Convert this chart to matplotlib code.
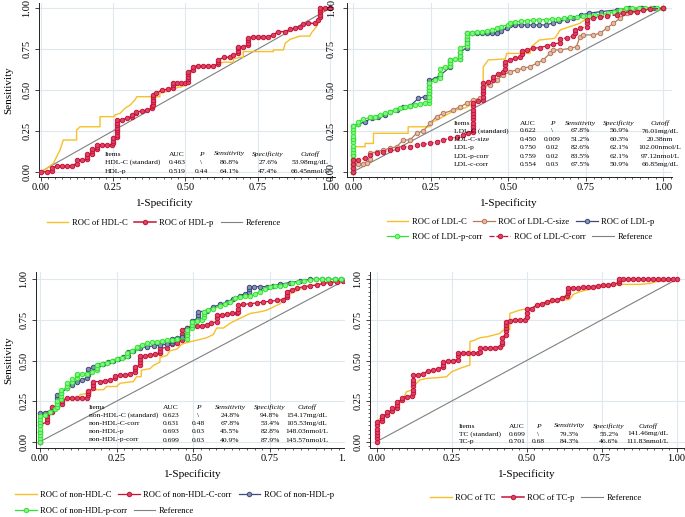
import numpy as np
import matplotlib
matplotlib.use("Agg")
import matplotlib.pyplot as plt
from matplotlib.patches import Rectangle
from matplotlib.ticker import MultipleLocator, FormatStrFormatter

plt.rcParams["font.family"] = ["Liberation Serif", "DejaVu Serif"]

# ---- data: (1-specificity, sensitivity) ----
hdl_c = [(0, 0), (0.02, 0.02), (0.044, 0.051), (0.055, 0.092), (0.067, 0.133), (0.078, 0.194),
         (0.124, 0.194), (0.124, 0.255), (0.136, 0.275), (0.205, 0.275), (0.205, 0.337), (0.256, 0.337),
         (0.256, 0.347), (0.274, 0.357), (0.291, 0.388), (0.309, 0.408), (0.326, 0.439), (0.332, 0.459),
         (0.412, 0.459), (0.412, 0.48), (0.435, 0.49), (0.435, 0.5), (0.487, 0.52), (0.499, 0.53),
         (0.51, 0.59), (0.522, 0.61), (0.533, 0.63), (0.55, 0.65), (0.608, 0.65), (0.614, 0.66),
         (0.631, 0.67), (0.666, 0.67), (0.666, 0.69), (0.689, 0.70), (0.7, 0.70), (0.7, 0.735),
         (0.804, 0.735), (0.804, 0.745), (0.839, 0.745), (0.845, 0.785), (0.862, 0.81), (0.896, 0.83),
         (0.93, 0.83), (0.936, 0.85), (0.954, 0.89), (0.965, 0.94), (0.97, 0.97), (0.982, 0.99), (1, 1)]
hdl_p = [(0, 0), (0.021, 0), (0.038, 0.006), (0.038, 0.02), (0.055, 0.035), (0.073, 0.035), (0.09, 0.035),
         (0.107, 0.035), (0.124, 0.05), (0.124, 0.07), (0.142, 0.071), (0.161, 0.075), (0.161, 0.09),
         (0.161, 0.108), (0.176, 0.11), (0.176, 0.125), (0.176, 0.137), (0.194, 0.14), (0.194, 0.152),
         (0.194, 0.163), (0.211, 0.163), (0.228, 0.163), (0.245, 0.163), (0.251, 0.175), (0.251, 0.19),
         (0.251, 0.205), (0.263, 0.21), (0.263, 0.225), (0.263, 0.24), (0.263, 0.255), (0.263, 0.27),
         (0.263, 0.285), (0.263, 0.3), (0.263, 0.316), (0.28, 0.316), (0.297, 0.327), (0.314, 0.337),
         (0.314, 0.35), (0.331, 0.357), (0.331, 0.367), (0.349, 0.37), (0.366, 0.376), (0.383, 0.388),
         (0.383, 0.4), (0.387, 0.41), (0.387, 0.425), (0.387, 0.44), (0.387, 0.455), (0.387, 0.47),
         (0.4, 0.48), (0.42, 0.5), (0.441, 0.504), (0.456, 0.515), (0.456, 0.53), (0.456, 0.541),
         (0.47, 0.541), (0.485, 0.541), (0.499, 0.541), (0.51, 0.55), (0.51, 0.565), (0.51, 0.58),
         (0.51, 0.595), (0.51, 0.61), (0.525, 0.625), (0.527, 0.643), (0.545, 0.647), (0.562, 0.647),
         (0.579, 0.647), (0.597, 0.647), (0.614, 0.66), (0.614, 0.672), (0.614, 0.684), (0.634, 0.7),
         (0.654, 0.7), (0.666, 0.714), (0.683, 0.724), (0.683, 0.74), (0.683, 0.755), (0.683, 0.765),
         (0.7, 0.765), (0.718, 0.775), (0.718, 0.79), (0.718, 0.805), (0.718, 0.816), (0.735, 0.827),
         (0.752, 0.827), (0.77, 0.827), (0.787, 0.827), (0.804, 0.837), (0.821, 0.857), (0.845, 0.857),
         (0.862, 0.871), (0.879, 0.878), (0.896, 0.888), (0.908, 0.902), (0.925, 0.908), (0.948, 0.908),
         (0.96, 0.929), (0.965, 0.945), (0.965, 0.96), (0.965, 0.975), (0.965, 0.99), (0.965, 1.0),
         (0.983, 1.0), (1, 1)]

ldl_c = [(0, 0), (0, 0.153), (0.038, 0.153), (0.038, 0.173), (0.065, 0.173), (0.065, 0.235), (0.177, 0.235),
         (0.177, 0.275), (0.247, 0.275), (0.247, 0.3), (0.263, 0.31), (0.29, 0.337), (0.312, 0.36),
         (0.333, 0.378), (0.36, 0.39), (0.387, 0.418), (0.41, 0.43), (0.419, 0.46), (0.419, 0.64),
         (0.435, 0.684), (0.49, 0.69), (0.495, 0.724), (0.57, 0.724), (0.575, 0.765), (0.6, 0.806),
         (0.65, 0.816), (0.667, 0.867), (0.699, 0.888), (0.731, 0.908), (0.753, 0.939), (0.785, 0.959),
         (0.817, 0.969), (0.882, 0.99), (0.903, 1.0), (1, 1)]
ldl_c_size = [(0, 0), (0, 0.02), (0, 0.04), (0, 0.05), (0.016, 0.05), (0.032, 0.05), (0.043, 0.055),
              (0.054, 0.08), (0.054, 0.112), (0.075, 0.122), (0.097, 0.133), (0.118, 0.143), (0.14, 0.153),
              (0.161, 0.194), (0.183, 0.194), (0.204, 0.235), (0.226, 0.25), (0.247, 0.296), (0.269, 0.337),
              (0.29, 0.357), (0.323, 0.378), (0.344, 0.398), (0.366, 0.418), (0.387, 0.439), (0.41, 0.45),
              (0.419, 0.48), (0.419, 0.52), (0.441, 0.531), (0.462, 0.561), (0.484, 0.592), (0.505, 0.612),
              (0.527, 0.622), (0.548, 0.633), (0.57, 0.643), (0.591, 0.663), (0.613, 0.684), (0.634, 0.724),
              (0.645, 0.745), (0.667, 0.745), (0.699, 0.755), (0.72, 0.765), (0.731, 0.827), (0.742, 0.837),
              (0.774, 0.837), (0.796, 0.847), (0.817, 0.878), (0.839, 0.908), (0.86, 0.939), (0.882, 0.969),
              (0.903, 0.99), (0.925, 1.0), (1, 1)]
ldl_p = [(0, 0), (0, 0.1), (0, 0.2), (0, 0.28), (0.016, 0.29), (0.038, 0.306), (0.059, 0.327), (0.081, 0.337),
         (0.102, 0.347), (0.118, 0.367), (0.14, 0.378), (0.161, 0.398), (0.183, 0.402), (0.21, 0.449),
         (0.231, 0.459), (0.245, 0.46), (0.245, 0.48), (0.245, 0.5), (0.245, 0.52), (0.245, 0.54),
         (0.245, 0.56), (0.263, 0.57), (0.28, 0.59), (0.312, 0.64), (0.312, 0.655), (0.312, 0.67),
         (0.312, 0.684), (0.344, 0.69), (0.344, 0.71), (0.344, 0.73), (0.366, 0.76), (0.366, 0.78),
         (0.366, 0.8), (0.366, 0.82), (0.366, 0.847), (0.382, 0.847), (0.398, 0.847), (0.414, 0.847),
         (0.43, 0.847), (0.446, 0.847), (0.462, 0.847), (0.478, 0.86), (0.495, 0.88), (0.505, 0.898),
         (0.52, 0.898), (0.54, 0.898), (0.56, 0.898), (0.58, 0.898), (0.6, 0.898), (0.62, 0.898),
         (0.645, 0.91), (0.665, 0.92), (0.69, 0.93), (0.71, 0.94), (0.735, 0.96), (0.76, 0.97),
         (0.8, 0.98), (0.85, 0.99), (0.89, 1.0), (0.93, 1.0), (0.97, 1.0), (1, 1)]
ldl_p_corr = [(0, 0), (0, 0.02), (0, 0.04), (0, 0.06), (0, 0.08), (0, 0.1), (0, 0.12), (0, 0.14), (0, 0.16),
              (0, 0.18), (0, 0.2), (0, 0.22), (0, 0.24), (0, 0.26), (0, 0.28), (0.016, 0.29), (0.016, 0.306),
              (0.032, 0.32), (0.054, 0.333), (0.07, 0.337), (0.086, 0.347), (0.102, 0.357), (0.118, 0.367),
              (0.134, 0.378), (0.151, 0.388), (0.167, 0.394), (0.183, 0.402), (0.199, 0.41), (0.215, 0.417),
              (0.231, 0.42), (0.245, 0.42), (0.245, 0.44), (0.245, 0.46), (0.245, 0.48), (0.245, 0.5),
              (0.245, 0.52), (0.245, 0.54), (0.263, 0.56), (0.28, 0.575), (0.28, 0.6), (0.28, 0.63),
              (0.296, 0.643), (0.312, 0.645), (0.312, 0.665), (0.312, 0.684), (0.328, 0.69), (0.344, 0.69),
              (0.344, 0.71), (0.344, 0.735), (0.344, 0.76), (0.366, 0.77), (0.366, 0.79), (0.366, 0.81),
              (0.366, 0.83), (0.366, 0.85), (0.382, 0.85), (0.398, 0.852), (0.414, 0.857), (0.43, 0.86),
              (0.446, 0.867), (0.462, 0.878), (0.478, 0.888), (0.5, 0.9), (0.505, 0.91), (0.52, 0.918),
              (0.54, 0.92), (0.56, 0.925), (0.58, 0.928), (0.6, 0.93), (0.62, 0.93), (0.64, 0.935),
              (0.66, 0.935), (0.68, 0.94), (0.7, 0.945), (0.72, 0.945), (0.74, 0.95), (0.76, 0.955),
              (0.78, 0.96), (0.8, 0.96), (0.82, 0.97), (0.84, 0.98), (0.86, 0.99), (0.88, 1.0), (0.9, 1.0),
              (0.92, 1.0), (0.94, 1.0), (0.96, 1.0), (0.98, 1.0), (1, 1)]
ldl_c_corr = [(0, 0), (0, 0.025), (0, 0.05), (0, 0.07), (0.016, 0.073), (0.038, 0.082), (0.054, 0.102),
              (0.075, 0.112), (0.097, 0.122), (0.118, 0.133), (0.14, 0.138), (0.161, 0.153), (0.183, 0.153),
              (0.204, 0.163), (0.226, 0.167), (0.247, 0.173), (0.269, 0.184), (0.29, 0.194), (0.312, 0.204),
              (0.333, 0.214), (0.355, 0.224), (0.371, 0.235), (0.387, 0.24), (0.387, 0.26), (0.387, 0.28),
              (0.387, 0.3), (0.387, 0.32), (0.387, 0.34), (0.387, 0.36), (0.387, 0.38), (0.387, 0.4),
              (0.387, 0.418), (0.403, 0.43), (0.419, 0.44), (0.419, 0.46), (0.419, 0.48), (0.419, 0.5),
              (0.419, 0.52), (0.419, 0.54), (0.435, 0.55), (0.452, 0.56), (0.452, 0.58), (0.468, 0.6),
              (0.484, 0.61), (0.49, 0.63), (0.49, 0.65), (0.49, 0.67), (0.505, 0.684), (0.522, 0.694),
              (0.538, 0.704), (0.543, 0.72), (0.543, 0.74), (0.56, 0.745), (0.58, 0.755), (0.602, 0.76),
              (0.624, 0.77), (0.645, 0.78), (0.667, 0.79), (0.667, 0.81), (0.688, 0.82), (0.71, 0.83),
              (0.715, 0.85), (0.715, 0.87), (0.731, 0.878), (0.753, 0.888), (0.753, 0.91), (0.753, 0.93),
              (0.774, 0.94), (0.796, 0.945), (0.817, 0.95), (0.849, 0.96), (0.871, 0.97), (0.892, 0.98),
              (0.914, 0.98), (0.935, 0.99), (0.957, 0.995), (1, 1)]

nonhdl_c = [(0, 0), (0, 0.15), (0.022, 0.16), (0.033, 0.19), (0.054, 0.2), (0.065, 0.25), (0.087, 0.26),
            (0.103, 0.27), (0.13, 0.27), (0.13, 0.29), (0.163, 0.3), (0.174, 0.32), (0.207, 0.32),
            (0.217, 0.34), (0.25, 0.34), (0.261, 0.36), (0.304, 0.37), (0.315, 0.4), (0.33, 0.4),
            (0.33, 0.44), (0.359, 0.45), (0.37, 0.47), (0.391, 0.49), (0.391, 0.52), (0.413, 0.53),
            (0.424, 0.56), (0.446, 0.57), (0.462, 0.6), (0.478, 0.61), (0.5, 0.62), (0.522, 0.63),
            (0.543, 0.64), (0.565, 0.66), (0.576, 0.7), (0.598, 0.7), (0.62, 0.73), (0.641, 0.75),
            (0.663, 0.77), (0.685, 0.79), (0.717, 0.8), (0.739, 0.81), (0.761, 0.83), (0.783, 0.85),
            (0.794, 0.88), (0.815, 0.91), (0.848, 0.94), (0.88, 0.96), (0.913, 0.97), (0.946, 0.985), (1, 1)]
nonhdl_c_corr = [(0, 0), (0, 0.1), (0.022, 0.123), (0.022, 0.14), (0.022, 0.16), (0.022, 0.175), (0.038, 0.185),
                 (0.038, 0.2), (0.038, 0.215), (0.054, 0.215), (0.071, 0.23), (0.071, 0.25), (0.087, 0.27),
                 (0.103, 0.27), (0.12, 0.27), (0.136, 0.27), (0.152, 0.27), (0.158, 0.285), (0.158, 0.3),
                 (0.158, 0.31), (0.174, 0.33), (0.174, 0.35), (0.174, 0.37), (0.196, 0.37), (0.212, 0.375),
                 (0.228, 0.38), (0.245, 0.39), (0.245, 0.405), (0.261, 0.41), (0.277, 0.41), (0.293, 0.42),
                 (0.31, 0.43), (0.31, 0.445), (0.31, 0.46), (0.326, 0.47), (0.326, 0.49), (0.326, 0.51),
                 (0.326, 0.53), (0.342, 0.53), (0.359, 0.535), (0.375, 0.54), (0.391, 0.545), (0.391, 0.56),
                 (0.391, 0.575), (0.413, 0.58), (0.413, 0.6), (0.43, 0.6), (0.446, 0.61), (0.462, 0.625),
                 (0.462, 0.645), (0.462, 0.665), (0.462, 0.69), (0.478, 0.7), (0.495, 0.71), (0.511, 0.71),
                 (0.527, 0.715), (0.543, 0.72), (0.559, 0.73), (0.576, 0.74), (0.576, 0.76), (0.576, 0.78),
                 (0.592, 0.78), (0.608, 0.785), (0.625, 0.79), (0.641, 0.79), (0.647, 0.8), (0.647, 0.82),
                 (0.647, 0.84), (0.663, 0.845), (0.685, 0.85), (0.707, 0.855), (0.728, 0.86), (0.75, 0.865),
                 (0.772, 0.87), (0.793, 0.875), (0.804, 0.89), (0.804, 0.905), (0.804, 0.924), (0.82, 0.935),
                 (0.837, 0.945), (0.859, 0.955), (0.88, 0.96), (0.902, 0.965), (0.924, 0.975), (0.946, 0.98),
                 (0.967, 0.985), (0.989, 0.99), (1, 1)]
nonhdl_p = [(0, 0), (0, 0.06), (0, 0.12), (0, 0.175), (0.016, 0.175), (0.033, 0.185), (0.054, 0.22),
            (0.054, 0.245), (0.054, 0.27), (0.054, 0.29), (0.07, 0.3), (0.087, 0.33), (0.103, 0.35),
            (0.12, 0.37), (0.136, 0.38), (0.152, 0.39), (0.158, 0.41), (0.158, 0.43), (0.158, 0.445),
            (0.174, 0.46), (0.19, 0.47), (0.207, 0.48), (0.223, 0.49), (0.239, 0.5), (0.255, 0.51),
            (0.272, 0.52), (0.288, 0.53), (0.288, 0.55), (0.304, 0.56), (0.326, 0.575), (0.348, 0.585),
            (0.37, 0.59), (0.391, 0.595), (0.413, 0.6), (0.43, 0.605), (0.43, 0.62), (0.43, 0.635),
            (0.446, 0.64), (0.462, 0.647), (0.478, 0.66), (0.478, 0.68), (0.478, 0.7), (0.495, 0.705),
            (0.495, 0.725), (0.495, 0.745), (0.516, 0.76), (0.516, 0.78), (0.516, 0.8), (0.543, 0.805),
            (0.565, 0.83), (0.587, 0.845), (0.609, 0.86), (0.63, 0.88), (0.652, 0.9), (0.668, 0.91),
            (0.68, 0.925), (0.68, 0.94), (0.68, 0.955), (0.696, 0.955), (0.717, 0.955), (0.739, 0.955),
            (0.761, 0.96), (0.783, 0.97), (0.815, 0.98), (0.848, 0.99), (0.88, 1.0), (0.9, 1.0), (0.92, 1.0),
            (0.94, 1.0), (0.96, 1.0), (0.98, 1.0), (1, 1)]
nonhdl_p_corr = [(0, 0), (0, 0.02), (0, 0.04), (0, 0.06), (0, 0.08), (0, 0.1), (0, 0.12), (0, 0.14), (0, 0.16),
                 (0.016, 0.164), (0.033, 0.185), (0.049, 0.2), (0.054, 0.215), (0.054, 0.235), (0.054, 0.25),
                 (0.07, 0.26), (0.07, 0.28), (0.07, 0.3), (0.07, 0.318), (0.087, 0.33), (0.087, 0.345),
                 (0.087, 0.36), (0.103, 0.37), (0.103, 0.385), (0.12, 0.39), (0.12, 0.41), (0.12, 0.42),
                 (0.136, 0.42), (0.152, 0.42), (0.168, 0.43), (0.185, 0.44), (0.185, 0.455), (0.185, 0.47),
                 (0.201, 0.48), (0.217, 0.485), (0.234, 0.5), (0.25, 0.51), (0.266, 0.515), (0.283, 0.53),
                 (0.283, 0.545), (0.299, 0.56), (0.315, 0.575), (0.315, 0.585), (0.332, 0.596), (0.348, 0.606),
                 (0.364, 0.611), (0.38, 0.616), (0.397, 0.62), (0.413, 0.624), (0.43, 0.628), (0.446, 0.63),
                 (0.478, 0.634), (0.478, 0.655), (0.478, 0.675), (0.478, 0.69), (0.495, 0.7), (0.495, 0.72),
                 (0.495, 0.74), (0.511, 0.745), (0.527, 0.75), (0.533, 0.77), (0.533, 0.785), (0.533, 0.8),
                 (0.549, 0.81), (0.565, 0.82), (0.587, 0.835), (0.603, 0.845), (0.62, 0.862), (0.636, 0.882),
                 (0.652, 0.893), (0.668, 0.895), (0.685, 0.9), (0.701, 0.91), (0.717, 0.925), (0.734, 0.94),
                 (0.75, 0.95), (0.766, 0.96), (0.783, 0.96), (0.799, 0.965), (0.82, 0.975), (0.84, 0.985),
                 (0.86, 0.99), (0.88, 0.995), (0.9, 1.0), (0.92, 1.0), (0.94, 1.0), (0.96, 1.0), (0.98, 1.0),
                 (1, 1)]

tc = [(0, 0), (0.006, 0.133), (0.022, 0.164), (0.044, 0.175), (0.056, 0.19), (0.072, 0.226), (0.089, 0.267),
      (0.1, 0.308), (0.117, 0.318), (0.128, 0.35), (0.144, 0.38), (0.167, 0.39), (0.2, 0.394), (0.233, 0.4),
      (0.25, 0.43), (0.278, 0.452), (0.311, 0.472), (0.311, 0.616), (0.328, 0.626), (0.344, 0.64),
      (0.367, 0.646), (0.389, 0.656), (0.411, 0.667), (0.422, 0.688), (0.444, 0.69), (0.444, 0.79),
      (0.478, 0.811), (0.511, 0.821), (0.533, 0.831), (0.556, 0.842), (0.578, 0.852), (0.6, 0.866),
      (0.622, 0.872), (0.644, 0.877), (0.656, 0.908), (0.678, 0.924), (0.722, 0.945), (0.767, 0.955),
      (0.8, 0.965), (0.822, 0.969), (0.878, 0.969), (0.911, 0.975), (0.933, 0.986), (0.967, 0.99), (1, 1)]
tc_p = [(0, 0), (0, 0.02), (0, 0.04), (0, 0.06), (0, 0.08), (0, 0.1), (0, 0.123), (0.017, 0.13), (0.017, 0.145),
        (0.017, 0.16), (0.033, 0.165), (0.033, 0.185), (0.05, 0.19), (0.05, 0.205), (0.067, 0.21),
        (0.067, 0.225), (0.067, 0.246), (0.083, 0.255), (0.083, 0.27), (0.1, 0.277), (0.117, 0.28),
        (0.122, 0.3), (0.122, 0.32), (0.122, 0.34), (0.122, 0.36), (0.122, 0.38), (0.122, 0.41),
        (0.139, 0.41), (0.156, 0.42), (0.172, 0.435), (0.189, 0.44), (0.206, 0.45), (0.222, 0.46),
        (0.222, 0.475), (0.222, 0.49), (0.239, 0.495), (0.256, 0.5), (0.272, 0.505), (0.272, 0.525),
        (0.272, 0.545), (0.289, 0.545), (0.306, 0.545), (0.322, 0.545), (0.339, 0.545), (0.344, 0.555),
        (0.344, 0.575), (0.361, 0.575), (0.378, 0.578), (0.394, 0.58), (0.411, 0.585), (0.417, 0.6),
        (0.417, 0.615), (0.417, 0.636), (0.43, 0.66), (0.43, 0.68), (0.43, 0.7), (0.43, 0.72), (0.43, 0.74),
        (0.444, 0.745), (0.461, 0.75), (0.478, 0.75), (0.494, 0.75), (0.5, 0.77), (0.5, 0.79), (0.5, 0.82),
        (0.517, 0.82), (0.533, 0.84), (0.55, 0.85), (0.567, 0.86), (0.583, 0.87), (0.6, 0.875),
        (0.617, 0.885), (0.633, 0.9), (0.639, 0.915), (0.639, 0.93), (0.639, 0.945), (0.656, 0.945),
        (0.672, 0.945), (0.689, 0.95), (0.706, 0.955), (0.722, 0.955), (0.739, 0.96), (0.756, 0.965),
        (0.772, 0.965), (0.789, 0.97), (0.809, 0.98), (0.809, 0.99), (0.809, 1.0), (0.822, 1.0),
        (0.839, 1.0), (0.856, 1.0), (0.872, 1.0), (0.889, 1.0), (0.906, 1.0), (0.922, 1.0), (0.939, 1.0),
        (0.956, 1.0), (0.972, 1.0), (0.989, 1.0), (1, 1)]

# ---- table contents ----
hdl_rows = [["HDL-C (standard)", "0.463", "\\", "86.8%", "27.6%", "53.98mg/dL"],
            ["HDL-p", "0.519", "0.44", "64.1%", "47.4%", "66.45nmol/L"]]
ldl_rows = [["LDL-C (standard)", "0.622", "\\", "67.8%", "56.9%", "76.01mg/dL"],
            ["LDL-C-size", "0.450", "0.009", "51.2%", "60.3%", "20.38nm"],
            ["LDL-p", "0.750", "0.02", "82.6%", "62.1%", "102.00nmol/L"],
            ["LDL-p-corr", "0.759", "0.02", "83.5%", "62.1%", "97.12nmol/L"],
            ["LDL-c-corr", "0.554", "0.03", "67.5%", "50.9%", "66.85mg/dL"]]
nonhdl_rows = [["non-HDL-C (standard)", "0.623", "\\", "24.8%", "94.8%", "154.17mg/dL"],
               ["non-HDL-C-corr", "0.631", "0.48", "67.8%", "53.4%", "105.53mg/dL"],
               ["non-HDL-p", "0.693", "0.03", "45.5%", "82.8%", "148.03nmol/L"],
               ["non-HDL-p-corr", "0.699", "0.03", "40.9%", "87.9%", "145.57nmol/L"]]
tc_rows = [["TC (standard)", "0.699", "\\", "79.3%", "55.2%", "141.46mg/dL"],
           ["TC-p", "0.701", "0.68", "84.3%", "46.6%", "111.83nmol/L"]]
header = ["Items", "AUC", "P", "Sensitivity", "Specificity", "Cutoff"]

YEL = "#f6c02a"
RED, RED_F = "#c51438", "#dc4467"
GRN, GRN_F = "#2fe62f", "#8cf08c"
NAV, NAV_F = "#3d4b7c", "#8893b6"
BRN, BRN_F = "#b8785a", "#e2bca4"
GRID = "#dde9ee"

W, H = 685, 517
fig = plt.figure(figsize=(W / 100, H / 100), dpi=100)


def box(l, t, r, b):
    return [l / W, 1 - b / H, (r - l) / W, (b - t) / H]


def fx(x, y):
    return x / W, 1 - y / H


def setup(ax, xlim, ylim, ylabel=False, yminor=False):
    ax.set_xlim(*xlim)
    ax.set_ylim(*ylim)
    for s in ("top", "right"):
        ax.spines[s].set_visible(False)
    for s in ("left", "bottom"):
        ax.spines[s].set_color("#222222")
        ax.spines[s].set_linewidth(0.7)
    ax.xaxis.set_major_locator(MultipleLocator(0.25))
    ax.yaxis.set_major_locator(MultipleLocator(0.25))
    ax.xaxis.set_minor_locator(MultipleLocator(0.025))
    if yminor:
        ax.yaxis.set_minor_locator(MultipleLocator(0.025))
    ax.xaxis.set_major_formatter(FormatStrFormatter("%.2f"))
    ax.yaxis.set_major_formatter(FormatStrFormatter("%.2f"))
    ax.tick_params(which="major", length=3, width=0.6, labelsize=7.5, color="#222222", pad=1.5)
    ax.tick_params(which="minor", length=1.6, width=0.5, color="#222222")
    ax.tick_params(axis="y", labelrotation=90, pad=2.5)
    for t in ax.get_yticklabels():
        t.set_va("center")
    ax.grid(True, which="major", color=GRID, lw=0.8)
    ax.set_axisbelow(True)
    ax.set_xlabel("1-Specificity", fontsize=8)
    ax.xaxis.label.set_va("center")
    if ylabel:
        ax.set_ylabel("Sensitivity", fontsize=8)


def roc(ax, pts, color, face=None, ls="-", lw=1.0, z=3):
    x, y = np.array(pts, dtype=float).T
    if face is None:
        return ax.plot(x, y, color=color, lw=lw, zorder=z)[0]
    return ax.plot(x, y, color=color, lw=lw, ls=ls, marker="o", ms=3.2, mfc=face,
                   mec=color, mew=0.7, zorder=z)[0]


def reference(ax):
    return ax.plot([0, 1], [0, 1], color="#808080", lw=0.8, zorder=2)[0]


def table(rows, items_x, cols_x, ys):
    fs = 5.4
    for j, h in enumerate(header):
        style = "italic" if j >= 2 else "normal"
        if j == 0:
            fig.text(*fx(items_x, ys[0]), h, fontsize=fs, ha="left", va="center", zorder=6)
        else:
            fig.text(*fx(cols_x[j - 1], ys[0]), h, fontsize=fs, style=style, ha="center",
                     va="center", zorder=6)
    for i, row in enumerate(rows):
        fig.text(*fx(items_x, ys[i + 1]), row[0], fontsize=fs, ha="left", va="center", zorder=6)
        for j, v in enumerate(row[1:]):
            fig.text(*fx(cols_x[j], ys[i + 1]), v, fontsize=fs, ha="center", va="center", zorder=6)


def legend(handles, labels, x, y):
    fig.legend(handles, labels, loc="center left", bbox_to_anchor=fx(x, y), ncol=len(handles),
               frameon=False, fontsize=6.2, handlelength=2.5, handletextpad=0.4, columnspacing=0.8,
               borderpad=0, borderaxespad=0, numpoints=1)


# ---- panel 1: HDL ----
ax1 = fig.add_axes(box(39, 3, 335, 177))
setup(ax1, (-0.0059, 1.0173), (-0.0324, 1.0324), ylabel=True)
ax1.xaxis.set_label_coords((165 - 39) / 296, -(203 - 177) / 174)
ax1.yaxis.set_label_coords(-(39 - 13) / 296, 0.5)
r1 = reference(ax1)
h1 = roc(ax1, hdl_c, YEL, lw=1.0)
h2 = roc(ax1, hdl_p, RED, RED_F, lw=1.1)
table(hdl_rows, 105, [177, 201, 229, 268, 310], [154, 162.6, 171.2])
legend([h1, h2, r1], ["ROC of HDL-C", "ROC of HDL-p", "Reference"], 46.7, 223.3)

# ---- panel 2: LDL ----
ax2 = fig.add_axes(box(347, 3, 672, 177))
setup(ax2, (-0.0203, 1.028), (-0.0324, 1.0324))
ax2.tick_params(axis="y", pad=5)
ax2.xaxis.set_label_coords((509 - 347) / 325, -(203 - 177) / 174)
r2 = reference(ax2)
g1 = roc(ax2, ldl_c, YEL, lw=1.0)
g2 = roc(ax2, ldl_c_size, BRN, BRN_F, lw=0.9)
g3 = roc(ax2, ldl_p, NAV, NAV_F, lw=0.9)
g4 = roc(ax2, ldl_p_corr, GRN, GRN_F, lw=0.9)
g5 = roc(ax2, ldl_c_corr, RED, RED_F, ls=(0, (4, 1.5)), lw=0.9)
table(ldl_rows, 454, [528, 552, 580, 619, 660], [123.5, 131, 139.3, 147.7, 156, 164.3])
legend([g1, g2, g3], ["ROC of LDL-C", "ROC of LDL-C-size", "ROC of LDL-p"], 386.7, 221.7)
legend([g4, g5, r2], ["ROC of LDL-p-corr", "ROC of LDL-C-corr", "Reference"], 386.7, 237.3)

# ---- panel 3: non-HDL ----
ax3 = fig.add_axes(box(36, 271.7, 352, 447.7))
setup(ax3, (-0.013, 1.017), (-0.037, 1.047), ylabel=True)
ax3.xaxis.set_label_coords((193 - 36) / 316, -(474 - 447.7) / 176)
ax3.yaxis.set_label_coords(-(36 - 13) / 316, (447.7 - 360) / 176)
r3 = reference(ax3)
k1 = roc(ax3, nonhdl_c, YEL, lw=1.0)
k2 = roc(ax3, nonhdl_c_corr, RED, RED_F, lw=0.9)
k3 = roc(ax3, nonhdl_p, NAV, NAV_F, lw=0.9)
k4 = roc(ax3, nonhdl_p_corr, GRN, GRN_F, lw=0.9)
table(nonhdl_rows, 89, [171, 198, 230, 270, 307], [407.3, 415.3, 423.5, 431.7, 440])
legend([k1, k2, k3], ["ROC of non-HDL-C", "ROC of non-HDL-C-corr", "ROC of non-HDL-p"], 15, 495)
legend([k4, r3], ["ROC of non-HDL-p-corr", "Reference"], 15, 511)

# white backdrop of the last panel covers the edge of panel 3
fig.patches.append(Rectangle((345 / W, 0), 1 - 345 / W, (H - 262) / H, transform=fig.transFigure,
                             facecolor="white", edgecolor="none", zorder=0.5))

# ---- panel 4: TC ----
ax4 = fig.add_axes(box(370, 271.7, 685, 447.7))
ax4.set_zorder(1)
setup(ax4, (-0.022, 1.028), (-0.037, 1.047), yminor=True)
ax4.xaxis.set_label_coords((527 - 370) / 315, -(474 - 447.7) / 176)
r4 = reference(ax4)
m1 = roc(ax4, tc, YEL, lw=1.0)
m2 = roc(ax4, tc_p, RED, RED_F, lw=1.1)
table(tc_rows, 459, [517, 538, 569, 609, 648], [426, 434, 441.7])
legend([m1, m2, r4], ["ROC of TC", "ROC of TC-p", "Reference"], 430, 498.3)

fig.savefig("out.png", dpi=100, facecolor="white")
